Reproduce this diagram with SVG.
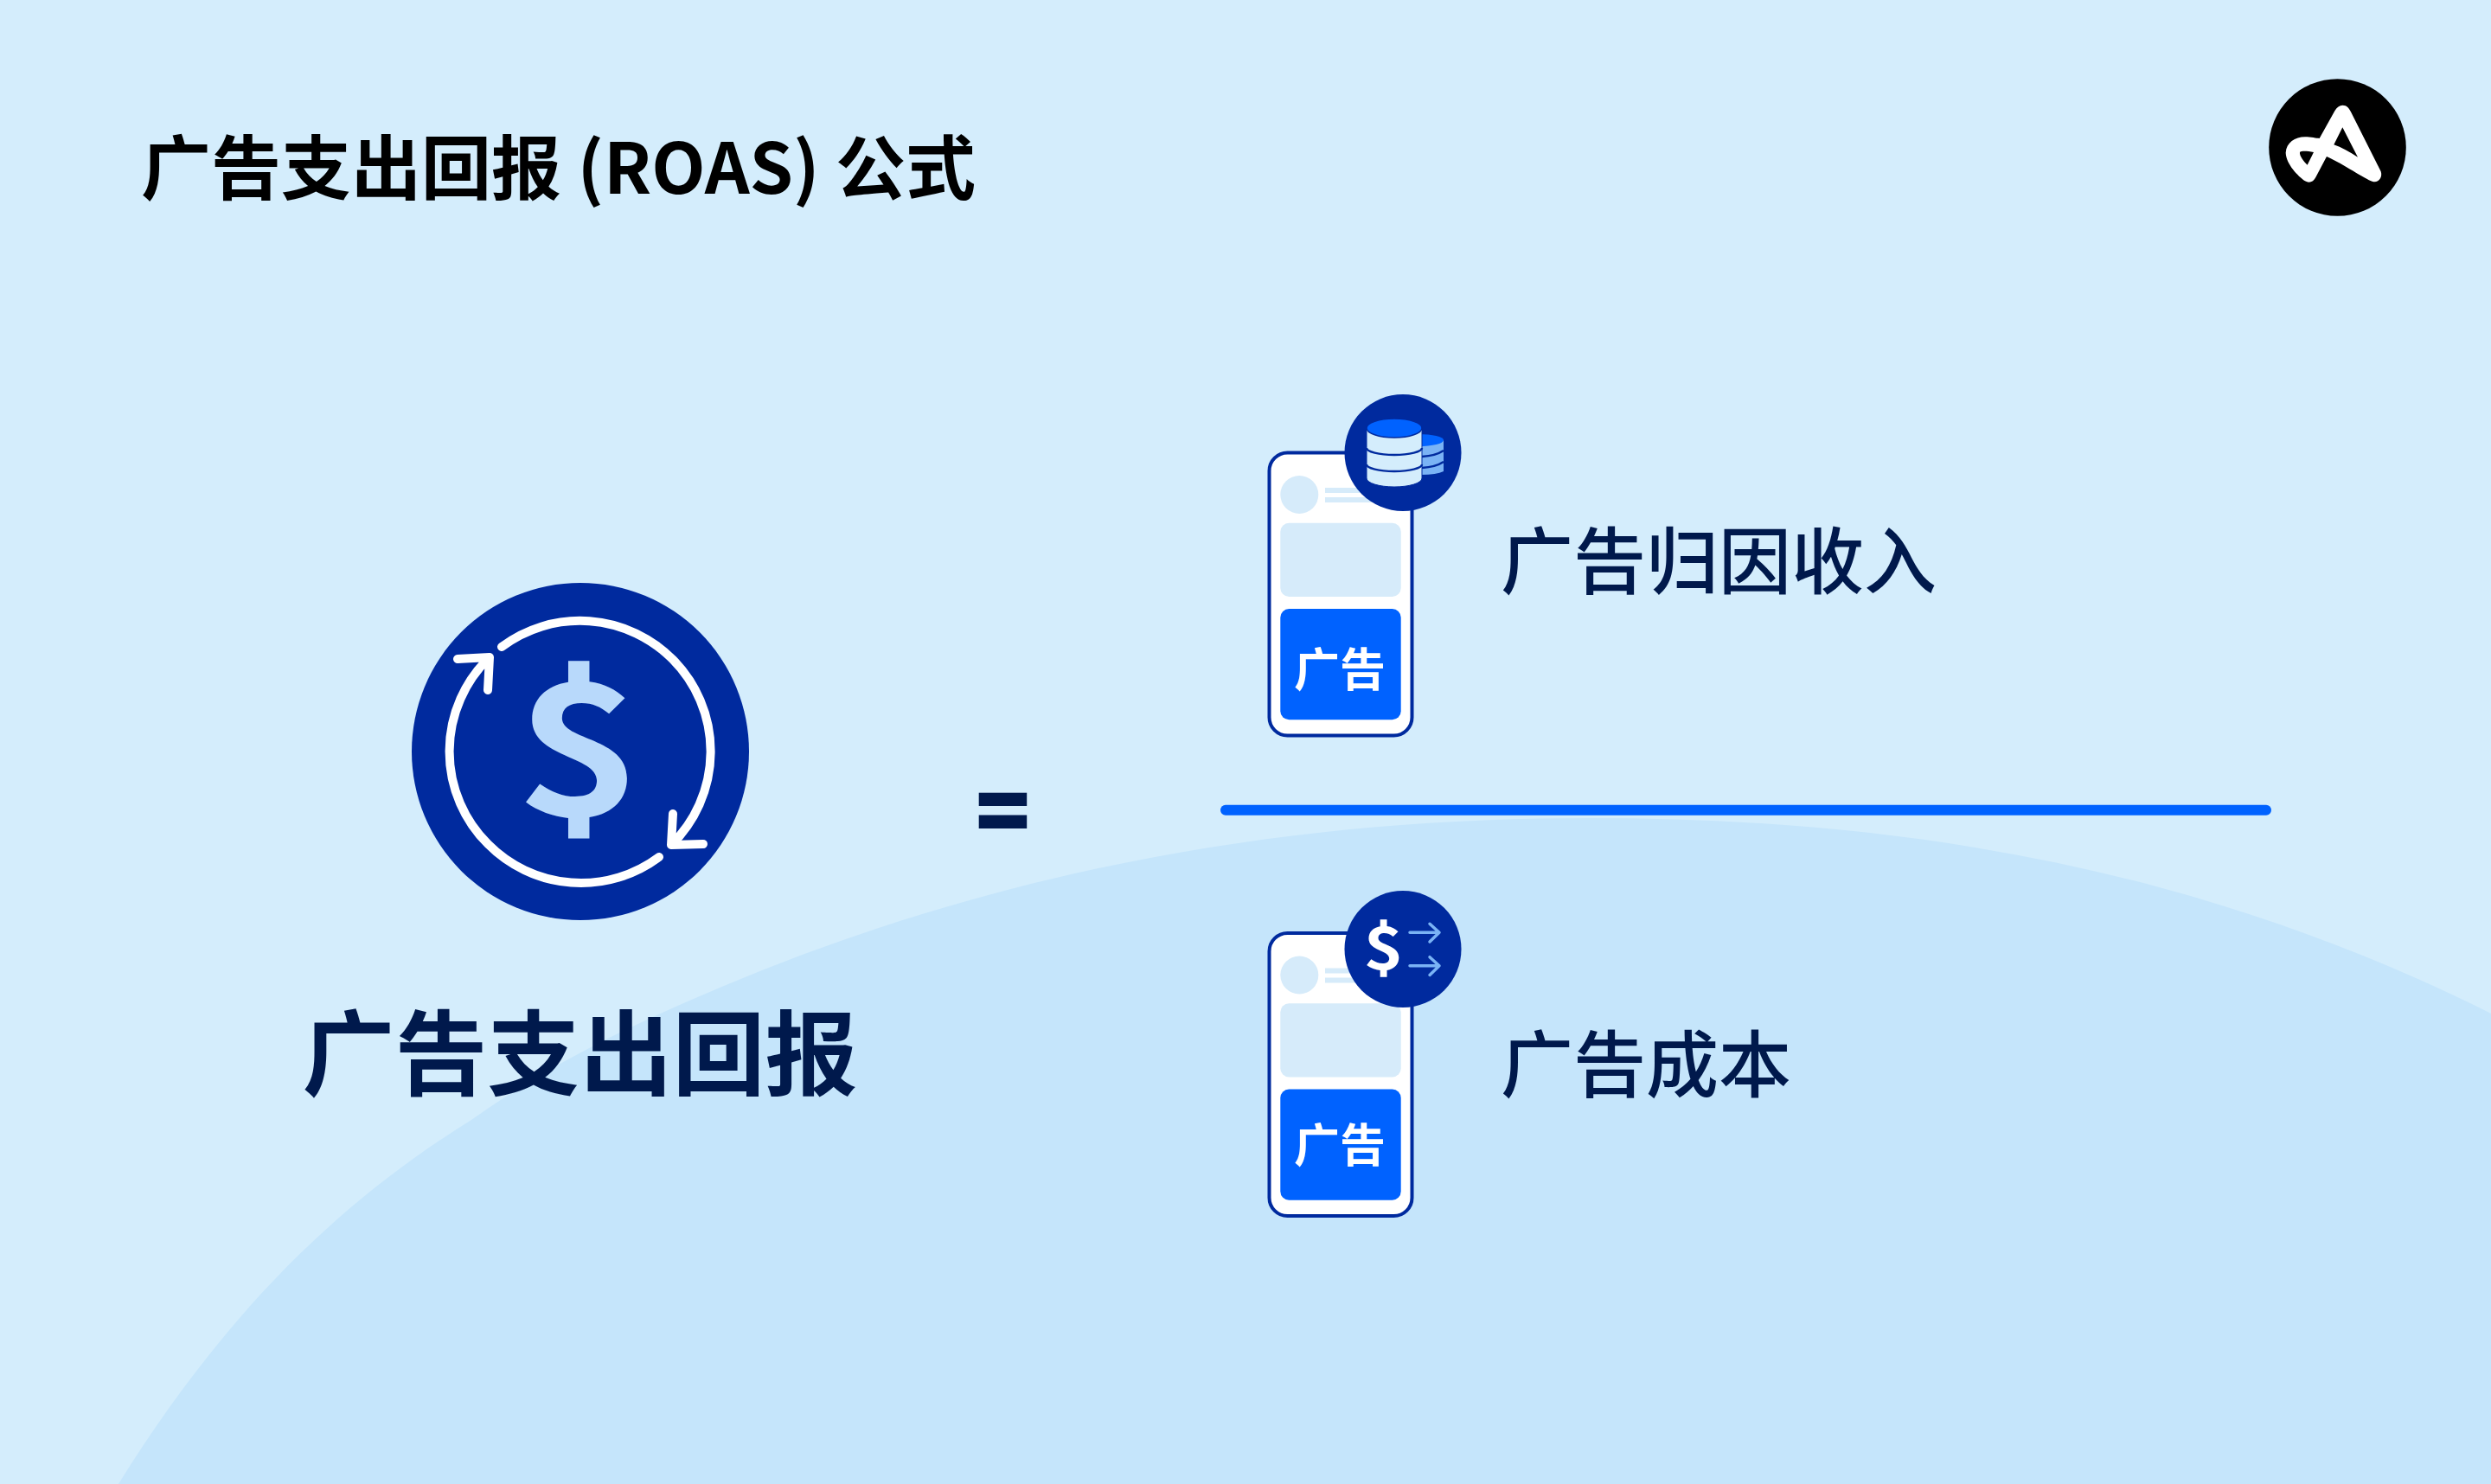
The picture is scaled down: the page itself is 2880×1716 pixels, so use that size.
<svg xmlns="http://www.w3.org/2000/svg" width="2880" height="1716" viewBox="0 0 2880 1716">
<style>
text{font-family:"Noto Sans CJK SC","Noto Sans",sans-serif}
.navy{fill:#00194c}
.ad{fill:#fff;font-size:53px;font-weight:700}
.lab{font-size:84px;font-weight:500}
.ring{fill:none;stroke:#fff;stroke-width:10;stroke-linecap:round;stroke-linejoin:round}
.soft{fill:#d6ebfa}
.band{fill:none;stroke:#002a9e;stroke-width:2.5}
.arr{fill:none;stroke:#7ab3f5;stroke-width:3.5;stroke-linecap:round;stroke-linejoin:round}
</style>
<defs>
<g id="phone">
<rect x="1467.5" y="523.5" width="165" height="327" rx="21" fill="#fff" stroke="#002a9e" stroke-width="4"/>
<circle class="soft" cx="1502.3" cy="572" r="22"/>
<rect class="soft" x="1532" y="564" width="62" height="6"/>
<rect class="soft" x="1532" y="575" width="62" height="6"/>
<rect class="soft" x="1480.3" y="604.7" width="139.4" height="85.3" rx="10"/>
<rect x="1480.3" y="704" width="139.4" height="128.3" rx="10" fill="#0062ff"/>
</g>
</defs>
<rect id="background" width="2880" height="1716" fill="#d4edfc"/>
<path id="hill" fill="#c5e5fb" d="M137,1716C265,1510 400,1385 545,1295C642,1226 740,1181 837,1140C1171,1000 1504,946 1838,946C2185,946 2533,998 2880,1172V1716Z"/>
<text id="title" x="163" y="224" font-size="81" font-weight="700" fill="#000">广告支出回报 (ROAS) 公式</text>
<g id="logo">
<circle cx="2702.5" cy="170.5" r="79.3" fill="#000"/>
<path transform="translate(2600 70) scale(.3333)" fill="#fff" fill-rule="evenodd" d="M325,155C340,155 348,165 355,180L458,385C465,405 450,425 430,420C400,410 330,360 270,333L232,405C225,420 210,427 195,418C170,400 130,360 128,320C130,285 160,265 195,265C215,265 235,270 245,270L298,175C305,162 315,155 325,155ZM325,232L295,292C320,300 350,318 378,335ZM177,318C175,330 190,350 203,362L225,318C205,315 185,312 177,318Z"/>
</g>
<g id="roas">
<circle cx="671" cy="869" r="195" fill="#002a9e"/>
<text transform="translate(669 943) scale(1.17 1)" text-anchor="middle" font-size="211" font-weight="700" fill="#b8d9fb">$</text>
<path class="ring" d="M580,748A151,151 0 0 1 777.800,762.500A151,151 0 0 1 776,977M778,941L776,977L813,976"/>
<path class="ring" d="M762,991A151,151 0 0 1 564.200,976.100A151,151 0 0 1 565,761M529,762L566,760L564,798"/>
<text class="navy" x="349.500" y="1258" font-size="107" font-weight="700">广告支出回报</text>
</g>
<g id="equals" class="navy">
<rect x="1131.700" y="916.700" width="55.500" height="15.300"/>
<rect x="1131.700" y="942.500" width="55.500" height="15.500"/>
</g>
<g id="connectors">
<line x1="1417" y1="936.700" x2="2620" y2="936.700" stroke="#0062ff" stroke-width="12" stroke-linecap="round"/>
</g>
<g id="revenue">
<use href="#phone"/>
<text class="ad" x="1496" y="793.500">广告</text>
<circle cx="1622" cy="523.500" r="67.500" fill="#002a9e"/>
<path d="M1617,509A29,7 0 0 1 1669,509V545A29,7 0 0 1 1617,545Z" fill="#7ab3f5"/>
<path d="M1640,502A29,7 0 0 1 1669,509A29,7 0 0 1 1640,516Z" fill="#0062ff"/>
<path class="band" d="M1644,528Q1660,527 1669,521M1644,541Q1660,540 1669,534"/>
<path d="M1580,495V553A32,10 0 0 0 1644,553V495Z" fill="#d4edfc" stroke="#002a9e" stroke-width="1"/>
<ellipse cx="1612" cy="495" rx="32" ry="11" fill="#0062ff" stroke="#002a9e" stroke-width="1.500"/>
<path class="band" d="M1580,518A32,8 0 0 0 1644,518M1580,537A32,8 0 0 0 1644,537"/>
<text class="lab navy" x="1735" y="680">广告归因收入</text>
</g>
<g id="cost">
<use href="#phone" transform="translate(0 555.500)"/>
<text class="ad" x="1496" y="1343.500">广告</text>
<circle cx="1622" cy="1097.500" r="67.500" fill="#002a9e"/>
<text transform="translate(1599.500 1120.500) scale(1.15 1)" text-anchor="middle" font-size="68" font-weight="700" fill="#fff">$</text>
<path class="arr" d="M1630,1078.300H1664M1653,1068.300L1664,1078.300L1653,1089M1630,1116.700H1664M1653,1106.700L1664,1116.700L1653,1127.400"/>
<text class="lab navy" x="1735" y="1262">广告成本</text>
</g>
</svg>
